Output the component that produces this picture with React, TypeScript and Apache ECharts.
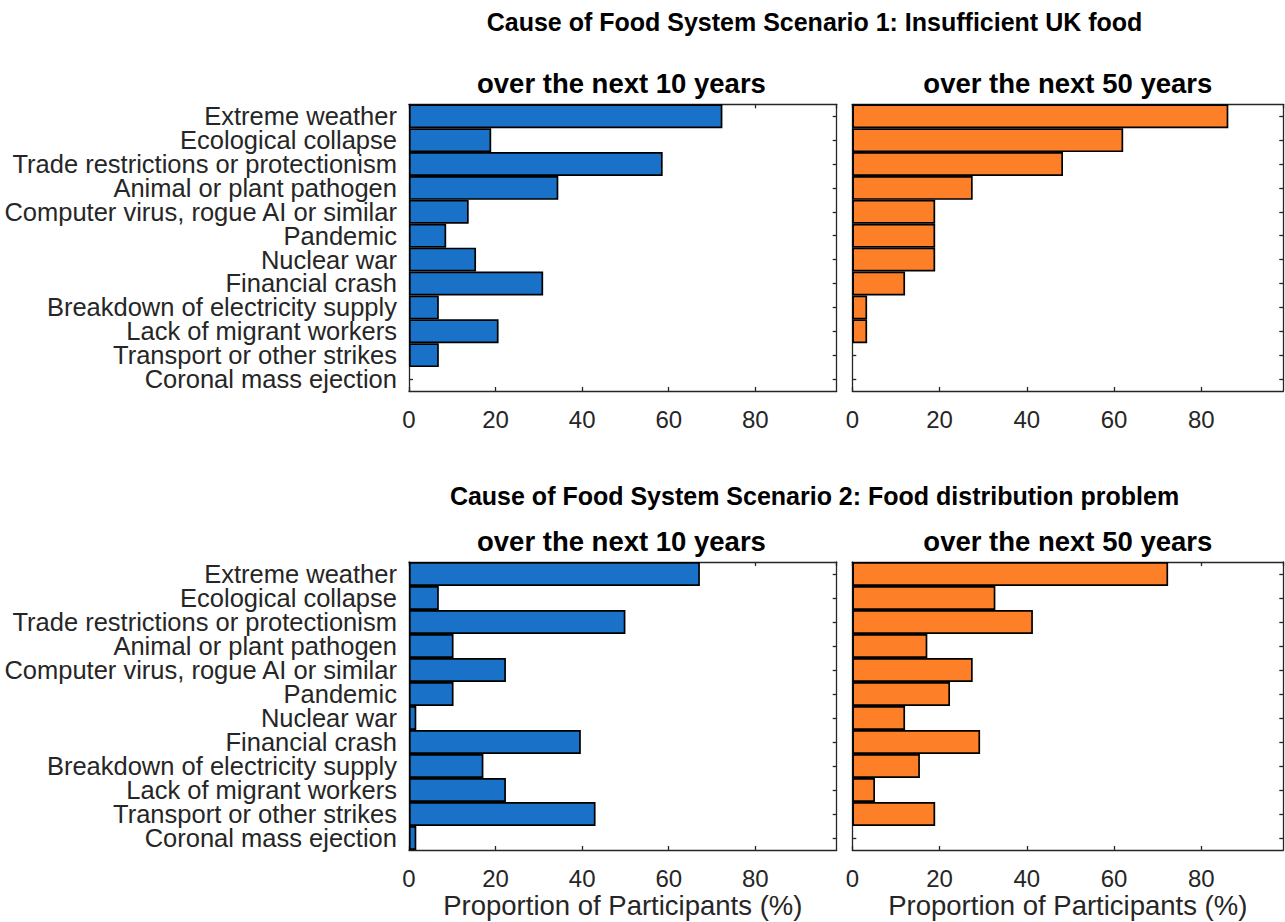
import React, { useEffect, useRef } from "react";
import * as echarts from "echarts";

const categories = [
  "Extreme weather",
  "Ecological collapse",
  "Trade restrictions or protectionism",
  "Animal or plant pathogen",
  "Computer virus, rogue AI or similar",
  "Pandemic",
  "Nuclear war",
  "Financial crash",
  "Breakdown of electricity supply",
  "Lack of migrant workers",
  "Transport or other strikes",
  "Coronal mass ejection",
];

const scenario1Next10 = [72.4, 19.0, 58.6, 34.5, 13.8, 8.6, 15.5, 31.0, 6.9, 20.7, 6.9, 0];
const scenario1Next50 = [86.2, 62.1, 48.3, 27.6, 19.0, 19.0, 19.0, 12.1, 3.4, 3.4, 0, 0];
const scenario2Next10 = [67.2, 6.9, 50.0, 10.3, 22.4, 10.3, 1.7, 39.7, 17.2, 22.4, 43.1, 1.7];
const scenario2Next50 = [72.4, 32.8, 41.4, 17.2, 27.6, 22.4, 12.1, 29.3, 15.5, 5.2, 19.0, 0];

const xTickValues = [0, 20, 40, 60, 80];
const xMax = 98.8;

const mainTitles = [
  "Cause of Food System Scenario 1: Insufficient UK food",
  "Cause of Food System Scenario 2: Food distribution problem",
];
const subTitles = ["over the next 10 years", "over the next 50 years"];
const xAxisName = "Proportion of Participants (%)";

const FONT = '"Liberation Sans", Arial, Helvetica, sans-serif';
const AX = "#262626";
const BLUE = "#1972C7";
const ORANGE = "#FD7F27";

export default function App() {
  const ref = useRef<HTMLDivElement>(null);
  useEffect(() => {
    if (!ref.current) return;
    const chart = echarts.init(ref.current, undefined, { renderer: "svg" });

    const grids = [
      { left: 406.2, top: 104.3, width: 430.5, height: 286.7 },
      { left: 852.3, top: 104.3, width: 431, height: 286.7 },
      { left: 406.2, top: 562, width: 430.5, height: 288 },
      { left: 852.3, top: 562, width: 431, height: 288 },
    ];

    const lineStyle = { color: AX, width: 1.3 };
    const xAxes: any[] = [];
    const yAxes: any[] = [];
    for (let g = 0; g < 4; g++) {
      const bottomRow = g >= 2;
      xAxes.push({
        type: "value",
        gridIndex: g,
        position: "bottom",
        min: 0,
        max: xMax,
        interval: 20,
        splitLine: { show: false },
        axisLine: { show: true, onZero: false, lineStyle },
        axisTick: { show: true, inside: true, length: 4, lineStyle },
        axisLabel: {
          show: true,
          margin: 16,
          fontFamily: FONT,
          fontSize: 24,
          color: AX,
          showMaxLabel: false,
          formatter: (v: number) => (xTickValues.includes(v) ? String(v) : ""),
        },
        name: bottomRow ? xAxisName : "",
        nameLocation: "middle",
        nameGap: 41,
        nameTextStyle: { fontFamily: FONT, fontSize: 27.5, color: AX },
      });
    }
    for (let g = 0; g < 4; g++) {
      xAxes.push({
        type: "value",
        gridIndex: g,
        position: "top",
        min: 0,
        max: xMax,
        interval: 20,
        splitLine: { show: false },
        axisLine: { show: true, onZero: false, lineStyle },
        axisTick: { show: true, inside: true, length: 4, lineStyle },
        axisLabel: { show: false },
      });
    }
    for (let g = 0; g < 4; g++) {
      const leftCol = g % 2 === 0;
      yAxes.push({
        type: "category",
        gridIndex: g,
        position: "left",
        inverse: true,
        data: categories,
        axisLine: { show: true, onZero: false, lineStyle },
        axisTick: { show: true, inside: true, length: 4, alignWithLabel: true, interval: 0, lineStyle },
        axisLabel: {
          show: leftCol,
          interval: 0,
          margin: 12,
          fontFamily: FONT,
          fontSize: 25.5,
          lineHeight: 22,
          color: AX,
        },
      });
    }
    for (let g = 0; g < 4; g++) {
      yAxes.push({
        type: "category",
        gridIndex: g,
        position: "right",
        inverse: true,
        data: categories,
        axisLine: { show: true, onZero: false, lineStyle },
        axisTick: { show: true, inside: true, length: 4, alignWithLabel: true, interval: 0, lineStyle },
        axisLabel: { show: false, interval: 0 },
      });
    }

    const seriesData = [scenario1Next10, scenario1Next50, scenario2Next10, scenario2Next50];
    const series = seriesData.map((d, g) => ({
      type: "bar",
      xAxisIndex: g,
      yAxisIndex: g,
      data: d.map((v) => (v === 0 ? { value: v, itemStyle: { borderWidth: 0, opacity: 0 } } : v)),
      barCategoryGap: "0%",
      itemStyle: {
        color: g % 2 === 0 ? BLUE : ORANGE,
        borderColor: "#000",
        borderWidth: 1.7,
      },
      silent: true,
    }));

    const graphic: any[] = [];
    const titleY = [22, 496];
    const subY = [83, 541];
    for (let r = 0; r < 2; r++) {
      graphic.push({
        type: "text",
        x: 814.5,
        y: titleY[r],
        style: {
          text: mainTitles[r],
          font: `bold 25px ${FONT}`,
          fill: "#000",
          align: "center",
          verticalAlign: "middle",
        },
      });
      for (let c = 0; c < 2; c++) {
        const gr = grids[r * 2 + c];
        graphic.push({
          type: "text",
          x: gr.left + gr.width / 2,
          y: subY[r],
          style: {
            text: subTitles[c],
            font: `bold 27.5px ${FONT}`,
            fill: "#000",
            align: "center",
            verticalAlign: "middle",
          },
        });
      }
    }

    chart.setOption({
      animation: false,
      backgroundColor: "#fff",
      grid: grids.map((g) => ({ ...g, containLabel: false })),
      xAxis: xAxes,
      yAxis: yAxes,
      series,
      graphic,
    });

    return () => chart.dispose();
  }, []);

  return (
    <div
      ref={ref}
      style={{ position: "absolute", left: 0, top: 0, width: 1285, height: 922 }}
    />
  );
}
